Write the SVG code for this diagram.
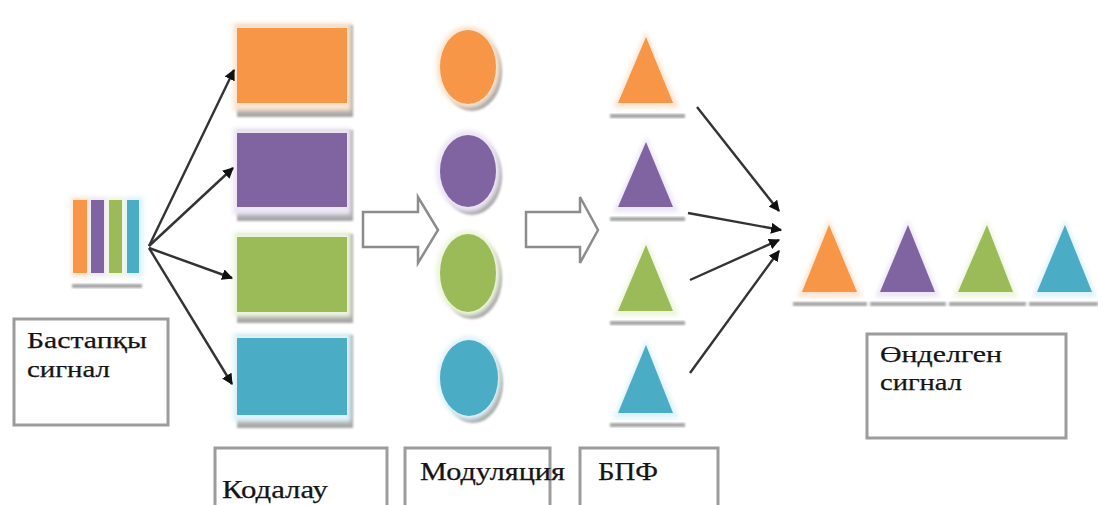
<svg xmlns="http://www.w3.org/2000/svg" width="1098" height="505" viewBox="0 0 1098 505">
<defs>
<style>
.lbl{font-family:"Liberation Serif","Times New Roman",serif;fill:#151515;stroke:#151515;stroke-width:0.25;}
.box{fill:#fff;stroke:#9c9c9c;stroke-width:3;}
.sh{fill:#a6a6a6;filter:url(#soft);}
.con{stroke:#333;stroke-width:2.4;fill:none;marker-end:url(#ah);}
.blk{fill:#fff;stroke:#8c8c8c;stroke-width:2.5;stroke-linejoin:miter;}
.o{fill:#F79646;} .oh{fill:#FDE4CF;}
.p{fill:#8064A2;} .ph{fill:#EDE6F5;}
.g{fill:#9BBB59;} .gh{fill:#EEF5DD;}
.b{fill:#4BACC6;} .bh{fill:#DDF3F9;}
</style>
<filter id="soft" x="-20%" y="-20%" width="140%" height="140%"><feGaussianBlur stdDeviation="1.2"/></filter>
<filter id="glow" x="-20%" y="-20%" width="140%" height="140%"><feGaussianBlur stdDeviation="2"/></filter>
<marker id="ah" viewBox="0 0 10 10" refX="9" refY="5" markerWidth="4.6" markerHeight="4.6" orient="auto" markerUnits="strokeWidth">
<path d="M0,0 L10,5 L0,10 Z" fill="#111"/>
</marker>
</defs>

<g id="source-signal">
<rect x="72" y="284" width="70" height="4" class="sh"/>
<rect x="71" y="197" width="19" height="80" class="oh" filter="url(#glow)"/>
<rect x="89" y="197" width="18" height="80" class="ph" filter="url(#glow)"/>
<rect x="107" y="197" width="18" height="80" class="gh" filter="url(#glow)"/>
<rect x="125" y="197" width="18" height="80" class="bh" filter="url(#glow)"/>
<rect x="73" y="200" width="14" height="73" class="o"/>
<rect x="91" y="200" width="13" height="73" class="p"/>
<rect x="109" y="200" width="13" height="73" class="g"/>
<rect x="127" y="200" width="12" height="73" class="b"/>
</g>

<g id="label-source">
<rect x="14" y="319" width="154" height="106" class="box"/>
<text class="lbl" x="27" y="348" font-size="24" textLength="120" lengthAdjust="spacingAndGlyphs">Бастапқы</text>
<text class="lbl" x="27" y="377" font-size="24" textLength="83" lengthAdjust="spacingAndGlyphs">сигнал</text>
</g>

<g id="code-orange">
<rect x="237" y="25" width="116" height="92" class="sh"/>
<rect x="233" y="23" width="118" height="88" class="oh" filter="url(#glow)"/>
<rect x="237" y="28" width="110" height="75" class="o"/>
</g>
<g id="code-purple">
<rect x="237" y="130" width="116" height="91" class="sh"/>
<rect x="233" y="128" width="118" height="87" class="ph" filter="url(#glow)"/>
<rect x="237" y="133" width="110" height="74" class="p"/>
</g>
<g id="code-green">
<rect x="237" y="234" width="116" height="89" class="sh"/>
<rect x="233" y="232" width="118" height="85" class="gh" filter="url(#glow)"/>
<rect x="237" y="237" width="110" height="75" class="g"/>
</g>
<g id="code-blue">
<rect x="237" y="335" width="116" height="93" class="sh"/>
<rect x="233" y="333" width="118" height="89" class="bh" filter="url(#glow)"/>
<rect x="237" y="338" width="110" height="77" class="b"/>
</g>

<g id="mod-orange">
<ellipse cx="472" cy="72" rx="30" ry="39" class="sh"/>
<ellipse cx="468" cy="67" rx="32" ry="41" class="oh" filter="url(#glow)"/>
<ellipse cx="468" cy="67" rx="28" ry="37" class="o"/>
</g>
<g id="mod-purple">
<ellipse cx="472" cy="176" rx="30" ry="39" class="sh"/>
<ellipse cx="468" cy="171" rx="32" ry="41" class="ph" filter="url(#glow)"/>
<ellipse cx="468" cy="171" rx="28" ry="36" class="p"/>
</g>
<g id="mod-green">
<ellipse cx="472" cy="278" rx="30" ry="41" class="sh"/>
<ellipse cx="468" cy="273" rx="32" ry="43" class="gh" filter="url(#glow)"/>
<ellipse cx="468" cy="273" rx="28" ry="39" class="g"/>
</g>
<g id="mod-blue">
<ellipse cx="473" cy="383" rx="30" ry="40" class="sh"/>
<ellipse cx="469" cy="378" rx="32" ry="42" class="bh" filter="url(#glow)"/>
<ellipse cx="469" cy="378" rx="29" ry="38" class="b"/>
</g>

<g id="fft-orange">
<rect x="610" y="114" width="75" height="4" class="sh"/>
<polygon points="646,31 613,108 679,108" class="oh" filter="url(#glow)"/>
<polygon points="646,37 618,103 673,103" class="o"/>
</g>
<g id="fft-purple">
<rect x="610" y="217" width="75" height="4" class="sh"/>
<polygon points="646,136 613,212 679,212" class="ph" filter="url(#glow)"/>
<polygon points="646,142 618,207 673,207" class="p"/>
</g>
<g id="fft-green">
<rect x="610" y="321" width="75" height="4" class="sh"/>
<polygon points="646,239 613,316 679,316" class="gh" filter="url(#glow)"/>
<polygon points="646,245 618,311 673,311" class="g"/>
</g>
<g id="fft-blue">
<rect x="610" y="423" width="75" height="4" class="sh"/>
<polygon points="646,339 613,418 679,418" class="bh" filter="url(#glow)"/>
<polygon points="646,345 618,413 673,413" class="b"/>
</g>

<g id="output-signal">
<rect x="793" y="302" width="74" height="4" class="sh"/>
<rect x="870" y="302" width="76" height="4" class="sh"/>
<rect x="949" y="302" width="77" height="4" class="sh"/>
<rect x="1029" y="302" width="69" height="4" class="sh"/>
<polygon points="829,219 797,297 862,297" class="oh" filter="url(#glow)"/>
<polygon points="908,219 875,297 940,297" class="ph" filter="url(#glow)"/>
<polygon points="987,219 953,297 1018,297" class="gh" filter="url(#glow)"/>
<polygon points="1065,219 1032,297 1097,297" class="bh" filter="url(#glow)"/>
<polygon points="829,225 802,292 857,292" class="o"/>
<polygon points="908,225 880,292 935,292" class="p"/>
<polygon points="987,225 958,292 1013,292" class="g"/>
<polygon points="1065,225 1037,292 1092,292" class="b"/>
</g>

<g id="label-output">
<rect x="867" y="334" width="199" height="104" class="box"/>
<text class="lbl" x="880" y="362" font-size="24" textLength="122" lengthAdjust="spacingAndGlyphs">Өнделген</text>
<text class="lbl" x="880" y="390" font-size="24" textLength="82" lengthAdjust="spacingAndGlyphs">сигнал</text>
</g>

<g id="label-coding">
<rect x="215" y="448" width="172" height="80" class="box"/>
<text class="lbl" x="222" y="498" font-size="26" textLength="106" lengthAdjust="spacingAndGlyphs">Кодалау</text>
</g>
<g id="label-modulation">
<rect x="405" y="448" width="145" height="80" class="box"/>
<text class="lbl" x="420" y="480" font-size="26" textLength="145" lengthAdjust="spacingAndGlyphs">Модуляция</text>
</g>
<g id="label-fft">
<rect x="580" y="448" width="138" height="80" class="box"/>
<text class="lbl" x="598" y="480" font-size="26" textLength="60" lengthAdjust="spacingAndGlyphs">БПФ</text>
</g>

<g id="connectors">
<line x1="149" y1="246" x2="234" y2="70" class="con"/>
<line x1="149" y1="246" x2="233" y2="168" class="con"/>
<line x1="149" y1="248" x2="232" y2="278" class="con"/>
<line x1="149" y1="248" x2="232" y2="384" class="con"/>
<path d="M363,212 H418 V197 L438,230 L418,263 V247 H363 Z" class="blk"/>
<path d="M526,212 H580 V197 L598,230 L580,263 V247 H526 Z" class="blk"/>
<line x1="697" y1="107" x2="779" y2="211" class="con"/>
<line x1="688" y1="213" x2="781" y2="230" class="con"/>
<line x1="690" y1="280" x2="779" y2="240" class="con"/>
<line x1="690" y1="373" x2="779" y2="251" class="con"/>
</g>
</svg>
